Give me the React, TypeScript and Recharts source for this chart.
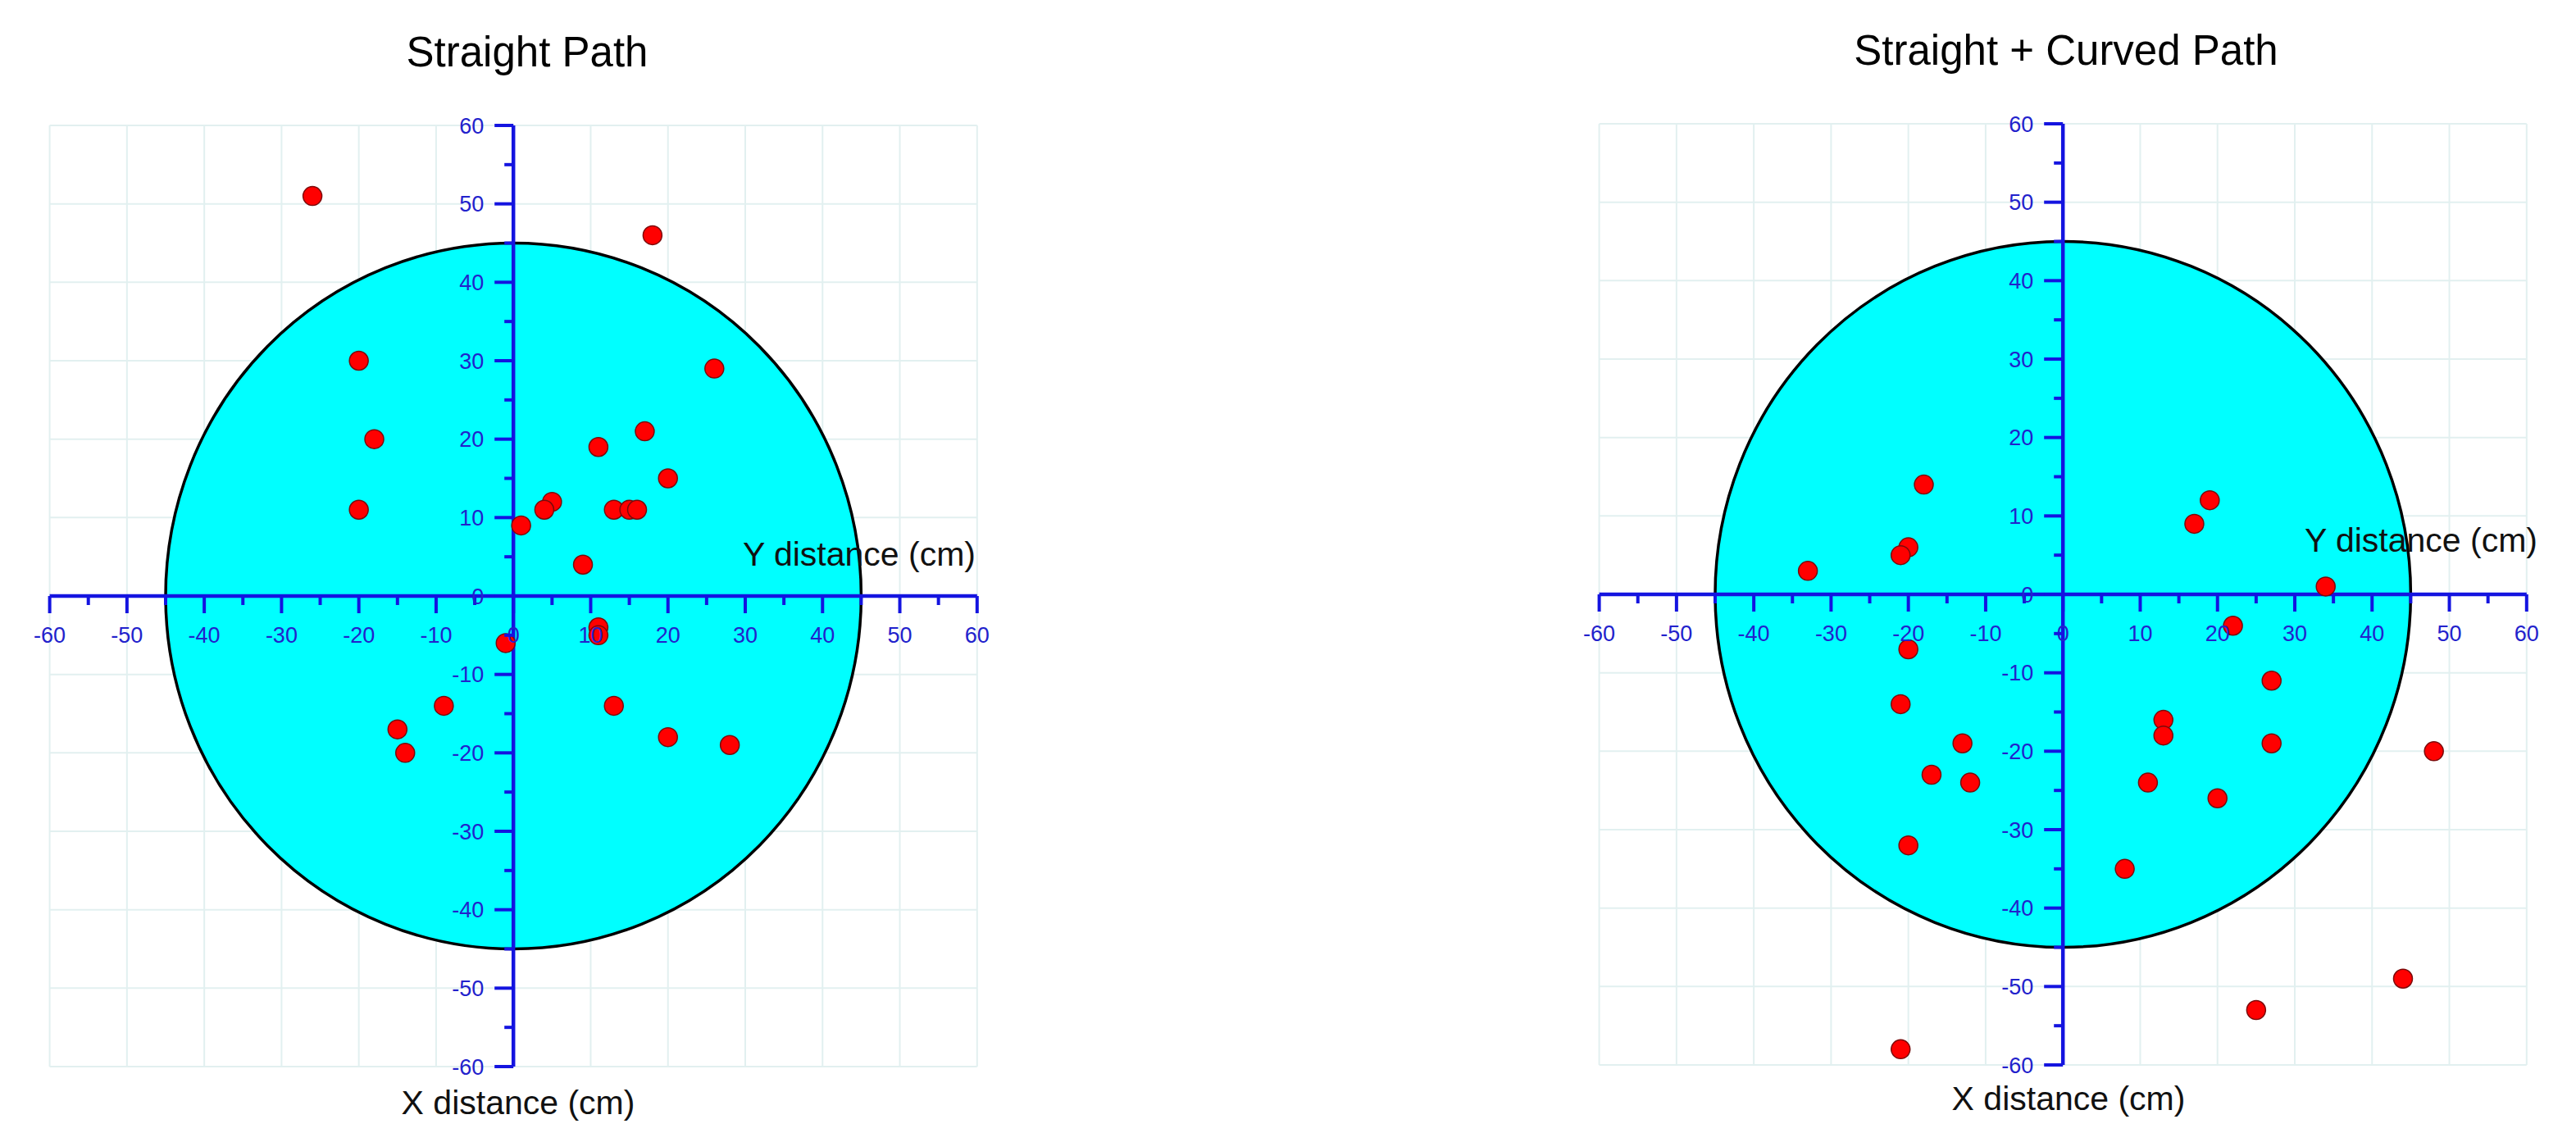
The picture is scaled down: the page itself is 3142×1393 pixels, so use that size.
import React from 'react';
import { ScatterChart, Scatter, XAxis, YAxis, ReferenceLine, ReferenceArea, CartesianGrid } from 'recharts';

// axis ticks every 5 cm, labels and grid every 10 cm
const TICKS = [-60, -55, -50, -45, -40, -35, -30, -25, -20, -15, -10, -5, 0, 5, 10, 15, 20, 25, 30, 35, 40, 45, 50, 55, 60];
const GRID = [-60, -50, -40, -30, -20, -10, 0, 10, 20, 30, 40, 50, 60];
const ZONE_RADIUS = 45;

// Straight Path landing points (cm)
const straightX = [-26, 18, -20, 26, -18, 17, 11, 20, -20, 5, 4, 13, 15, 16, 1, 9, -1, 11, 11, -9, 13, -15, -14, 20, 28];
const straightY = [51, 46, 30, 29, 20, 21, 19, 15, 11, 12, 11, 11, 11, 11, 9, 4, -6, -4, -5, -14, -14, -17, -20, -18, -19];

// Straight + Curved Path landing points (cm)
const curvedX = [-18, 19, 17, -20, -21, -33, 34, 22, -20, 27, -21, 13, 13, -13, 27, 48, -17, -12, 11, 20, -20, 8, 44, 25, -21];
const curvedY = [14, 12, 9, 6, 5, 3, 1, -4, -7, -11, -14, -16, -18, -19, -19, -20, -23, -24, -24, -26, -32, -35, -49, -53, -58];

const AXIS = '#1414E0';
const TICK_TEXT = '#2222CC';
const GRID_COLOR = '#e2f0f0';
const FONT = '"Liberation Sans", Arial, sans-serif';

const CHART_W = 1500;
const CHART_H = 1377;
// axes take 1px each (a 0px axis is not drawn at all)
const MARGIN = { top: 145, left: 51.6, right: 316.2, bottom: 83 };
const PLOT_W = CHART_W - MARGIN.left - 1 - MARGIN.right;
const PLOT_H = CHART_H - MARGIN.top - MARGIN.bottom - 1;

const toPoints = (xs: number[], ys: number[]) => xs.map((x, i) => ({ x, y: ys[i] }));

// ticks are drawn on the zero lines, not at the plot edge
function XTick(props: any) {
  const { x, y, payload } = props;
  const v = payload.value;
  const major = v % 10 === 0;
  const y0 = y - PLOT_H / 2;
  return (
    <g>
      <line x1={x} x2={x} y1={y0} y2={y0 + (major ? 21 : 11)} stroke={AXIS} strokeWidth={4} />
      {major && (
        <text x={x} y={y0 + 57} textAnchor="middle" fill={TICK_TEXT} fontSize={27} fontFamily={FONT}>
          {v}
        </text>
      )}
    </g>
  );
}

function YTick(props: any) {
  const { x, y, payload } = props;
  const v = payload.value;
  const major = v % 10 === 0;
  const x0 = x + PLOT_W / 2;
  return (
    <g>
      <line x1={x0 - (major ? 23 : 11)} x2={x0} y1={y} y2={y} stroke={AXIS} strokeWidth={4} />
      {major && (
        <text x={x0 - 36} y={y + 9.5} textAnchor="end" fill={TICK_TEXT} fontSize={27} fontFamily={FONT}>
          {v}
        </text>
      )}
    </g>
  );
}

function Zone(props: any) {
  const { x, y, width, height } = props;
  return (
    <ellipse
      cx={x + width / 2}
      cy={y + height / 2}
      rx={width / 2}
      ry={height / 2}
      fill="#00FFFF"
      stroke="#000"
      strokeWidth={3.5}
    />
  );
}

function Dot(props: any) {
  return <circle cx={props.cx} cy={props.cy} r={11.5} fill="#FF0000" stroke="#7a0a0a" strokeWidth={1.5} />;
}

function TargetPlot({ points }: { points: { x: number; y: number }[] }) {
  return (
    <ScatterChart width={CHART_W} height={CHART_H} margin={MARGIN}>
      <CartesianGrid
        stroke={GRID_COLOR}
        strokeWidth={2}
        horizontalValues={GRID}
        verticalValues={GRID}
      />
      <XAxis
        type="number"
        dataKey="x"
        domain={[-60, 60]}
        ticks={TICKS}
        interval={0}
        height={1}
        axisLine={false}
        tickLine={false}
        tickSize={0}
        tickMargin={0}
        tick={<XTick />}
      />
      <YAxis
        type="number"
        dataKey="y"
        domain={[-60, 60]}
        ticks={TICKS}
        interval={0}
        width={1}
        axisLine={false}
        tickLine={false}
        tickSize={0}
        tickMargin={0}
        tick={<YTick />}
      />
      <ReferenceArea
        x1={-ZONE_RADIUS}
        x2={ZONE_RADIUS}
        y1={-ZONE_RADIUS}
        y2={ZONE_RADIUS}
        shape={<Zone />}
      />
      <ReferenceLine x={0} stroke={AXIS} strokeWidth={4.5} />
      <ReferenceLine y={0} stroke={AXIS} strokeWidth={4.5} />
      <Scatter data={points} shape={<Dot />} isAnimationActive={false} />
    </ScatterChart>
  );
}

export default function App() {
  const straight = toPoints(straightX, straightY);
  const curved = toPoints(curvedX, curvedY);
  return (
    <div style={{ position: 'relative', width: 3126, height: 1377, background: '#fff' }}>
      <div style={{ position: 'absolute', left: 0, top: 0 }}>
        <TargetPlot points={straight} />
      </div>
      <div style={{ position: 'absolute', left: 1890.1, top: -2.4 }}>
        <TargetPlot points={curved} />
      </div>
      <svg
        width={3126}
        height={1377}
        style={{ position: 'absolute', left: 0, top: 0, pointerEvents: 'none' }}
        fontFamily={FONT}
      >
        <text x={635} y={73} textAnchor="middle" fontSize={51} fill="#000">Straight Path</text>
        <text x={2512} y={70.5} textAnchor="middle" fontSize={51} fill="#000">Straight + Curved Path</text>
        <text x={1182} y={682} textAnchor="end" fontSize={41} fill="#111">Y distance (cm)</text>
        <text x={3087} y={665} textAnchor="end" fontSize={41} fill="#111">Y distance (cm)</text>
        <text x={624} y={1351} textAnchor="middle" fontSize={41} fill="#111">X distance (cm)</text>
        <text x={2515} y={1346} textAnchor="middle" fontSize={41} fill="#111">X distance (cm)</text>
      </svg>
    </div>
  );
}
